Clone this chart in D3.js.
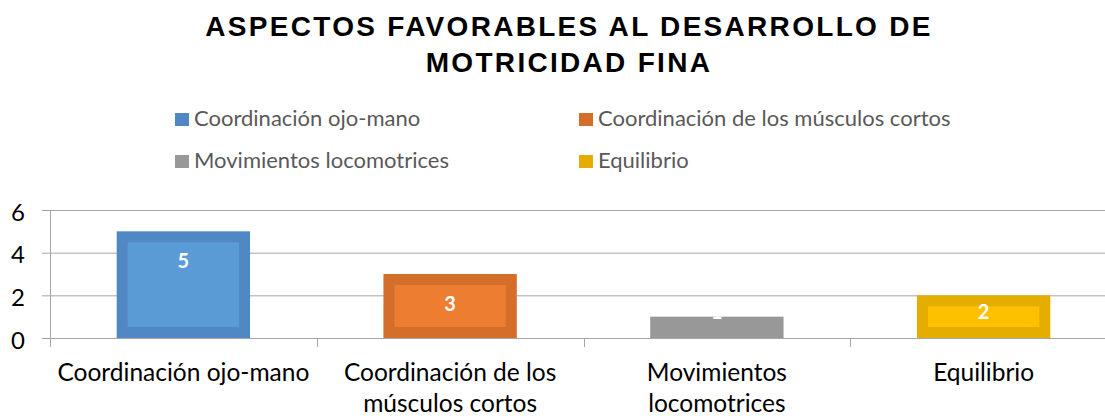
<!DOCTYPE html>
<html>
<head>
<meta charset="utf-8">
<script src="https://cdn.jsdelivr.net/npm/d3@7"></script>
<style>
  body { margin: 0; background: #fff; overflow: hidden; }
  svg { display: block; }
</style>
</head>
<body>
<div id="chart"></div>
<script>
// data
var categories = ["Coordinación ojo-mano", "Coordinación de los músculos cortos", "Movimientos locomotrices", "Equilibrio"];
var axisLabels = [["Coordinación ojo-mano"], ["Coordinación de los", "músculos cortos"], ["Movimientos", "locomotrices"], ["Equilibrio"]];
var values = [5, 3, 1, 2];
var yTicks = [0, 2, 4, 6];
var titleLines = ["ASPECTOS FAVORABLES AL DESARROLLO DE", "MOTRICIDAD FINA"];

var fills = ["#5B9BD5", "#ED7D31", "#A5A5A5", "#FFC000"];
var borders = ["#4F88C3", "#D46F2B", "#989898", "#E5AD00"];

var width = 1105, height = 416;
var margin = {top: 210, left: 50, bottom: 78};
var plotRight = 1117;

var svg = d3.select("#chart").append("svg")
    .attr("width", width)
    .attr("height", height);

// title
svg.append("g").selectAll("text")
  .data(titleLines)
  .enter().append("text")
    .attr("x", 569)
    .attr("y", function(d, i) { return 36 + i * 36; })
    .attr("text-anchor", "middle")
    .style("font-family", "'Liberation Sans', Arial, sans-serif")
    .style("font-weight", "bold")
    .style("font-size", "28px")
    .style("letter-spacing", "2.3px")
    .style("fill", "#000")
    .text(function(d) { return d; });

// legend (2 x 2)
var legend = svg.append("g").selectAll("g")
  .data(categories)
  .enter().append("g")
    .attr("transform", function(d, i) {
      return "translate(" + (i % 2 ? 579 : 175) + "," + (i < 2 ? 126 : 168) + ")";
    });

legend.append("rect")
    .attr("x", 0)
    .attr("y", -13)
    .attr("width", 14)
    .attr("height", 13)
    .style("fill", function(d, i) { return borders[i]; });

legend.append("text")
    .attr("x", 19)
    .attr("y", 0)
    .style("font-family", "Lato, 'Open Sans', sans-serif")
    .style("font-size", "22px")
    .style("fill", "#595959")
    .text(function(d) { return d; });

// scales
var x = d3.scaleBand()
    .domain(categories)
    .range([margin.left, plotRight])
    .paddingInner(0.5)
    .paddingOuter(0.25);

var y = d3.scaleLinear()
    .domain([0, 6])
    .range([height - margin.bottom, margin.top]);

// gridlines + y axis
var yAxis = svg.append("g")
    .attr("transform", "translate(" + margin.left + ",0)")
    .call(d3.axisLeft(y).tickValues(yTicks).tickFormat(d3.format("d")).tickSize(8).tickPadding(17));

yAxis.select(".domain").remove();
yAxis.selectAll(".tick line").attr("stroke", "#a6a6a6");
yAxis.selectAll(".tick").append("line")
    .attr("x1", 0)
    .attr("x2", plotRight - margin.left)
    .attr("stroke", "#a6a6a6");
yAxis.selectAll(".tick text")
    .attr("dy", "0.42em")
    .style("font-family", "Lato, 'Open Sans', sans-serif")
    .style("font-size", "24px")
    .style("fill", "#000");

// vertical axis line
svg.append("line")
    .attr("x1", margin.left + 0.5).attr("x2", margin.left + 0.5)
    .attr("y1", y(6)).attr("y2", y(0) + 9)
    .attr("stroke", "#a6a6a6");

// category boundary ticks
var step = x.step();
svg.append("g").selectAll("line")
  .data(d3.range(categories.length))
  .enter().append("line")
    .attr("x1", function(i) { return Math.round(margin.left + i * step) + 0.5; })
    .attr("x2", function(i) { return Math.round(margin.left + i * step) + 0.5; })
    .attr("y1", y(0))
    .attr("y2", y(0) + 9)
    .attr("stroke", "#a6a6a6");

// bars: dark border + lighter inner fill
var border = 11;
var bars = svg.append("g").selectAll("g")
  .data(values)
  .enter().append("g");

bars.append("rect")
    .attr("x", function(d, i) { return x(categories[i]); })
    .attr("y", function(d) { return y(d); })
    .attr("width", x.bandwidth())
    .attr("height", function(d) { return y(0) - y(d); })
    .style("fill", function(d, i) { return borders[i]; });

bars.append("rect")
    .attr("x", function(d, i) { return x(categories[i]) + border; })
    .attr("y", function(d) { return y(d) + border; })
    .attr("width", x.bandwidth() - 2 * border)
    .attr("height", function(d) { return Math.max(0, y(0) - y(d) - 2 * border); })
    .style("fill", function(d, i) { return fills[i]; });

// data labels
bars.append("text")
    .attr("x", function(d, i) { return x(categories[i]) + x.bandwidth() / 2; })
    .attr("y", function(d) { var h = y(0) - y(d); return y(d) + Math.min(37, h - 19); })
    .attr("text-anchor", "middle")
    .style("font-family", "Lato, 'Open Sans', sans-serif")
    .style("font-weight", "bold")
    .style("font-size", "20px")
    .style("fill", "#fff")
    .text(function(d) { return d; });

// category labels
var catLabels = svg.append("g").selectAll("text")
  .data(axisLabels)
  .enter().append("text")
    .attr("x", function(d, i) { return x(categories[i]) + x.bandwidth() / 2; })
    .attr("y", 381)
    .attr("text-anchor", "middle")
    .style("font-family", "Lato, 'Open Sans', sans-serif")
    .style("font-size", "24.5px")
    .style("fill", "#000");

catLabels.selectAll("tspan")
  .data(function(d) { return d; })
  .enter().append("tspan")
    .attr("x", function() { return d3.select(this.parentNode).attr("x"); })
    .attr("dy", function(d, i) { return i ? 31 : 0; })
    .text(function(d) { return d; });
</script>
</body>
</html>
